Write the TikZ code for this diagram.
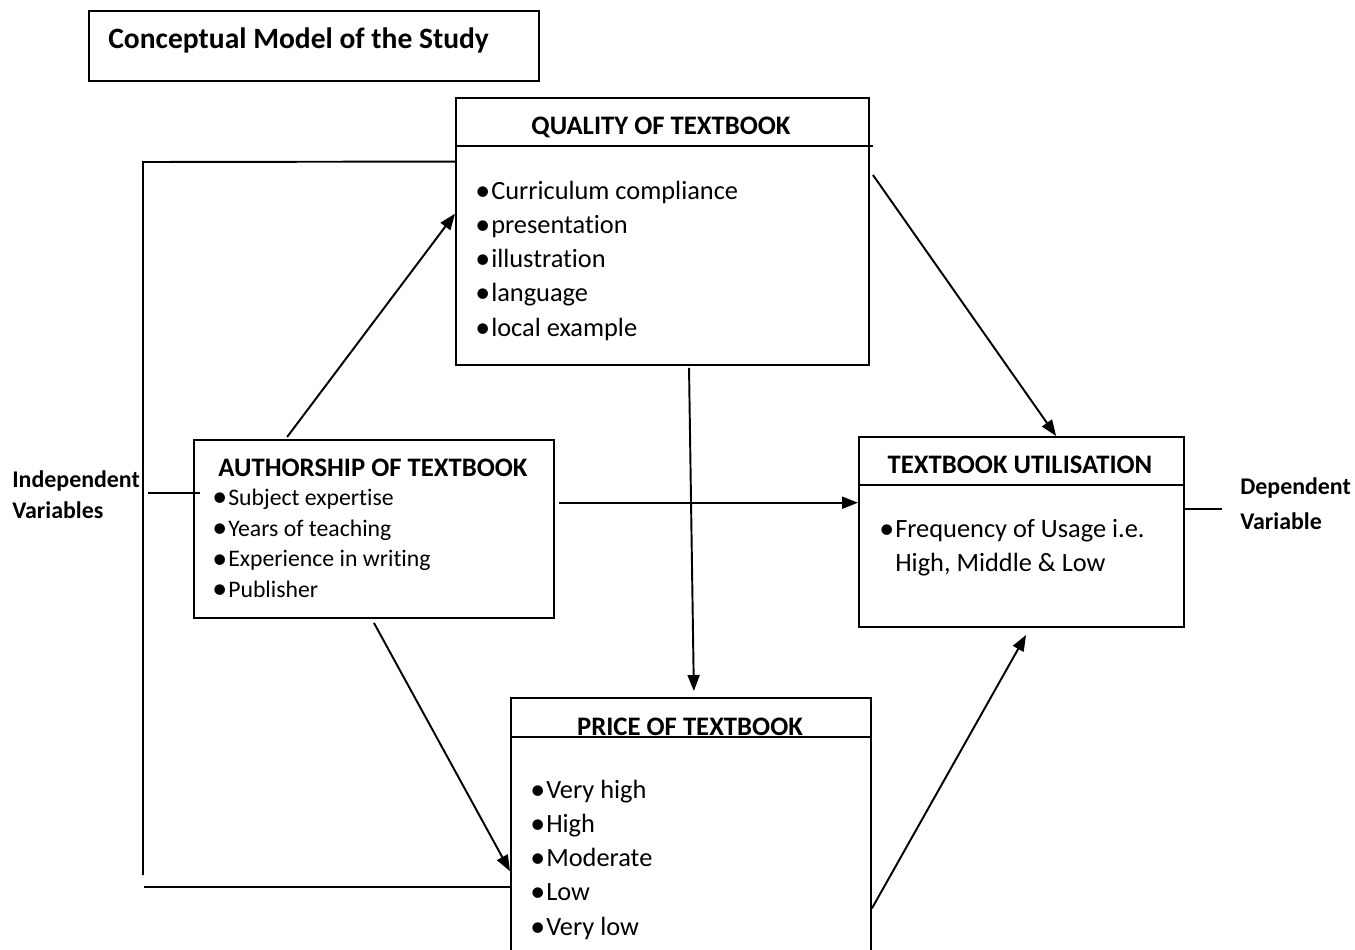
\documentclass[tikz,border=0pt]{standalone}
\usepackage{fontspec}
\setmainfont{Carlito}[Ligatures=NoCommon]
\usetikzlibrary{arrows.meta,calc,positioning}

\newcommand{\itm}{\raisebox{-0.6pt}{\fontsize{17}{17}\selectfont\textbullet}\hspace{0.6pt}}

\begin{document}
\begin{tikzpicture}[x=0.2mm,y=-0.2mm,
  box/.style={draw,line width=1.1pt,inner sep=0pt,anchor=north west},
  head/.style={font=\fontsize{15.2}{18}\selectfont\bfseries,inner sep=0pt},
  items/.style={font=\fontsize{15}{19.4}\selectfont,align=left,
    inner sep=0pt,anchor=north west},
  smallitems/.style={font=\fontsize{13.5}{17.4}\selectfont,align=left,
    inner sep=0pt,anchor=north west},
  side/.style={font=\fontsize{13.6}{16}\selectfont\bfseries,inner sep=0pt,
    anchor=west},
  flow/.style={-{Triangle[length=3.2mm,width=2.4mm]},line width=1.1pt},
  rule/.style={line width=1.1pt}]
\useasboundingbox (0,0) rectangle (1355,949);

% boxes
\node[box,minimum width=90mm,minimum height=14mm] (title) at (88,10) {};
\node[box,minimum width=82.6mm,minimum height=53.4mm] (quality) at (455,97) {};
\node[box,minimum width=72mm,minimum height=35.6mm] (auth) at (193,439) {};
\node[box,minimum width=65mm,minimum height=38mm] (util) at (858,436) {};
\node[box,minimum width=72mm,minimum height=60mm] (price) at (510,697) {};

% header rules
\draw[rule] ($(quality.north west)+(0,49)$) -- ($(quality.north east)+(3,49)$);
\draw[rule] ($(util.north west)+(0,49)$) -- ($(util.north east)+(0,49)$);
\draw[rule] ($(price.north west)+(0,40)$) -- ($(price.north east)+(0,40)$);

% texts
\node[font=\fontsize{16.8}{21}\selectfont\bfseries,inner sep=0pt,anchor=west]
  (titletext) at (108,40) {Conceptual Model of the Study};
\node[head] (qhead) at (661,127) {QUALITY OF TEXTBOOK};
\node[head] (ahead) at (373,468) {AUTHORSHIP OF TEXTBOOK};
\node[head] (uhead) at (1020,465) {TEXTBOOK UTILISATION};
\node[head] (phead) at (690,727) {PRICE OF TEXTBOOK};

\node[items] (qlist) at (475,181) {\itm Curriculum compliance\\\itm presentation\\
  \itm illustration\\\itm language\\\itm local example};
\node[smallitems] (alist) at (212,489) {\itm Subject expertise\\\itm Years of teaching\\
  \itm Experience in writing\\\itm Publisher};
\node[items] (ulist) at (879,519) {\itm Frequency of Usage i.e.\\
  \phantom{\itm}High, Middle \& Low};
\node[items] (plist) at (530,780) {\itm Very high\\\itm High\\\itm Moderate\\
  \itm Low\\\itm Very low};

\node[side] (indep1) at (12,481) {Independent};
\node[side] (indep2) at (12,510) {Variables};
\node[side] (dep1) at (1240,488) {Dependent};
\node[side] (dep2) at (1240,521) {Variable};

% bracket of the independent variables
\coordinate (bktop) at (143,162);
\coordinate (bkbot) at (143,875);
\draw[rule] ($(quality.north west)!0.24!(quality.south west)$) -- (bktop) -- (bkbot);
\draw[rule] ($(price.north west)!0.63!(price.south west)$) -| ($(bkbot)+(2,11)$);
\draw[rule] ($(auth.north west)!0.3!(auth.south west)+(7,0)$) -- ++(-52,0);
\draw[rule] ($(util.north east)!0.379!(util.south east)$) -- ++(37,0);

% arrows
\draw[flow] ($(auth.north west)!0.26!(auth.north east)+(0,-2)$)
  -- ($(quality.north west)!0.434!(quality.south west)$);
\draw[flow] ($(quality.north east)!0.29!(quality.south east)+(3,0)$)
  -- ($(util.north west)!0.606!(util.north east)$);
\draw[flow] ($(quality.south west)!0.564!(quality.south east)+(0,2)$)
  -- ($(price.north west)!0.508!(price.north east)+(0,-6)$);
\coordinate (a2u) at ($(auth.north east)!0.354!(auth.south east)+(4,0)$);
\draw[flow] (a2u) -- (a2u -| util.west);
\draw[flow] ($(auth.south)+(0,4)$)
  -- ($(price.north west)!0.577!(price.south west)$);
\draw[flow] ($(price.north east)!0.7!(price.south east)$)
  -- ($(util.south west)!0.514!(util.south east)+(0,7)$);
\end{tikzpicture}
\end{document}
